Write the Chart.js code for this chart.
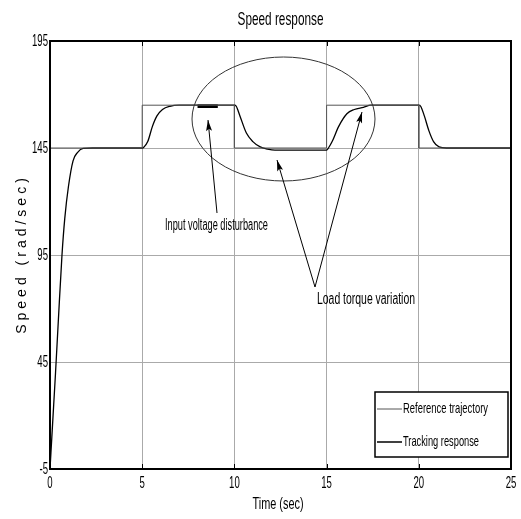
<!DOCTYPE html>
<html>
<head>
<meta charset="utf-8">
<script src="https://cdn.jsdelivr.net/npm/chart.js@4/dist/chart.umd.min.js"></script>
<style>
html,body{margin:0;padding:0;background:#fff;}
#wrap{width:521px;height:519px;position:relative;}
</style>
</head>
<body>
<div id="wrap"><canvas id="c" width="521" height="519"></canvas></div>
<script>
const FONT = '"Liberation Sans", Arial, sans-serif';
const titleText = 'Speed response';
const xTitle = 'Time (sec)';
const yTitle = 'Speed (rad/sec)';
const xTicks = [0, 5, 10, 15, 20, 25];
const yTicks = [-5, 45, 95, 145, 195];

// Reference trajectory (step profile)
const refTime = [0, 5, 5, 10, 10, 15, 15, 20, 20, 25];
const refSpeed = [145, 145, 165, 165, 145, 145, 165, 165, 145, 145];

// Tracking response
const trkTime = [0, 0.1, 0.2, 0.3, 0.45, 0.65, 0.8, 1.0, 1.25, 1.5, 1.8, 2.3,
  5.0, 5.1, 5.3, 5.55, 5.8, 6.1, 6.5, 7.0, 8.0, 10.0,
  10.1, 10.3, 10.65, 11.0, 11.4, 11.8, 12.2, 15.0,
  15.1, 15.3, 15.65, 16.1, 16.5, 17.0, 17.4, 20.0,
  20.1, 20.3, 20.55, 20.8, 21.1, 21.5, 25];
const trkSpeed = [-5, 10, 25, 40, 64, 95, 112, 127, 139, 143, 144.8, 145,
  145, 145.5, 148, 155, 160, 163, 164.5, 165, 165, 165,
  164.5, 160, 152, 148, 145.5, 144.5, 144, 144,
  145, 148, 155, 161, 163, 164, 165, 165,
  164.5, 160, 153, 148, 145.5, 145, 145];

// Input voltage disturbance segment
const distTime = [8.0, 9.1];
const distSpeed = [164.5, 164.5];

const legendLabels = ['Reference trajectory', 'Tracking response'];
const noteVoltage = 'Input voltage disturbance';
const noteLoad = 'Load torque variation';

const toXY = (xs, ys) => xs.map((x, i) => ({x, y: ys[i]}));

// draw condensed text: horizontally squeezed by factor sx
function narrowText(ctx, text, x, y, size, sx, align) {
  ctx.save();
  ctx.font = size + 'px ' + FONT;
  ctx.textBaseline = 'middle';
  const w = ctx.measureText(text).width * sx;
  let left = x;
  if (align === 'center') left = x - w / 2;
  else if (align === 'right') left = x - w;
  ctx.translate(left, y);
  ctx.scale(sx, 1);
  ctx.textAlign = 'left';
  ctx.fillText(text, 0, 0);
  ctx.restore();
}
function fitScale(ctx, text, size, target) {
  ctx.save();
  ctx.font = size + 'px ' + FONT;
  const w = ctx.measureText(text).width;
  ctx.restore();
  return target / w;
}

const deco = {
  id: 'deco',
  afterDraw(chart) {
    const ctx = chart.ctx;
    const a = chart.chartArea;
    const xs = chart.scales.x, ys = chart.scales.y;
    ctx.save();
    ctx.fillStyle = '#000';
    // inward ticks
    ctx.strokeStyle = '#000'; ctx.lineWidth = 1;
    xTicks.forEach(t => {
      const px = Math.round(xs.getPixelForValue(t)) + 0.5;
      ctx.beginPath(); ctx.moveTo(px, a.top); ctx.lineTo(px, a.top + 5);
      ctx.moveTo(px, a.bottom); ctx.lineTo(px, a.bottom - 5); ctx.stroke();
    });
    // frame
    ctx.lineWidth = 2;
    ctx.strokeRect(a.left, a.top, a.right - a.left, a.bottom - a.top);

    // tick labels
    const tsx = fitScale(ctx, '195', 17, 16);
    yTicks.forEach(v => {
      narrowText(ctx, String(v), a.left - 2, ys.getPixelForValue(v), 17, tsx, 'right');
    });
    xTicks.forEach(v => {
      narrowText(ctx, String(v), xs.getPixelForValue(v), a.bottom + 14, 17, tsx, 'center');
    });

    // title
    narrowText(ctx, titleText, (a.left + a.right) / 2, 20, 19, fitScale(ctx, titleText, 19, 86), 'center');
    // x title
    narrowText(ctx, xTitle, 278, 505, 16, fitScale(ctx, xTitle, 16, 51), 'center');
    // y title
    ctx.save();
    ctx.translate(22, 256);
    ctx.rotate(-Math.PI / 2);
    ctx.font = '14px ' + FONT;
    ctx.textAlign = 'center'; ctx.textBaseline = 'middle';
    if ('letterSpacing' in ctx) ctx.letterSpacing = '4px';
    ctx.fillText(yTitle, 2, 0);
    ctx.restore();

    // ellipse
    ctx.strokeStyle = '#333'; ctx.lineWidth = 1;
    ctx.beginPath();
    ctx.ellipse(283.5, 119, 91.5, 62, 0, 0, Math.PI * 2);
    ctx.stroke();

    // arrows
    function arrow(x1, y1, x2, y2) {
      ctx.strokeStyle = '#000'; ctx.fillStyle = '#000'; ctx.lineWidth = 1;
      ctx.beginPath(); ctx.moveTo(x1, y1); ctx.lineTo(x2, y2); ctx.stroke();
      const ang = Math.atan2(y2 - y1, x2 - x1);
      const L = 11, W = 3;
      ctx.beginPath();
      ctx.moveTo(x2, y2);
      ctx.lineTo(x2 - L * Math.cos(ang) + W * Math.sin(ang), y2 - L * Math.sin(ang) - W * Math.cos(ang));
      ctx.lineTo(x2 - L * Math.cos(ang) * 0.8, y2 - L * Math.sin(ang) * 0.8);
      ctx.lineTo(x2 - L * Math.cos(ang) - W * Math.sin(ang), y2 - L * Math.sin(ang) + W * Math.cos(ang));
      ctx.closePath(); ctx.fill();
    }
    arrow(217, 213, 208, 120);
    arrow(315, 287, 277, 160);
    arrow(315, 287, 362, 112);

    ctx.fillStyle = '#000';
    narrowText(ctx, noteVoltage, 165, 226, 16, fitScale(ctx, noteVoltage, 16, 103), 'left');
    narrowText(ctx, noteLoad, 317, 300, 16, fitScale(ctx, noteLoad, 16, 98), 'left');

    // legend
    const lx = 375, ly = 392, lw = 133, lh = 65;
    ctx.fillStyle = '#fff';
    ctx.fillRect(lx, ly, lw, lh);
    ctx.strokeStyle = '#000'; ctx.lineWidth = 1.5;
    ctx.strokeRect(lx, ly, lw, lh);
    const rows = [409, 442];
    const colors = ['#555', '#000'];
    const widths = [1, 1.5];
    const targets = [85, 76];
    rows.forEach((y, i) => {
      ctx.strokeStyle = colors[i]; ctx.lineWidth = widths[i];
      ctx.beginPath(); ctx.moveTo(lx + 2, y); ctx.lineTo(lx + 27, y); ctx.stroke();
      ctx.fillStyle = '#000';
      narrowText(ctx, legendLabels[i], lx + 28, y, 15, fitScale(ctx, legendLabels[i], 15, targets[i]), 'left');
    });
    ctx.restore();
  }
};

new Chart(document.getElementById('c'), {
  type: 'line',
  data: {
    datasets: [
      {label: legendLabels[0], data: toXY(refTime, refSpeed), borderColor: '#555', borderWidth: 1, pointRadius: 0, tension: 0},
      {label: legendLabels[1], data: toXY(trkTime, trkSpeed), borderColor: '#000', borderWidth: 1.3, pointRadius: 0, cubicInterpolationMode: 'monotone'},
      {label: 'disturbance', data: toXY(distTime, distSpeed), borderColor: '#000', borderWidth: 3.5, pointRadius: 0}
    ]
  },
  options: {
    responsive: false,
    animation: false,
    events: [],
    layout: {padding: {top: 41, right: 10, left: 0, bottom: 0}},
    plugins: {legend: {display: false}, title: {display: false}, tooltip: {enabled: false}},
    scales: {
      x: {
        type: 'linear', min: 0, max: 25,
        afterBuildTicks: s => { s.ticks = xTicks.map(v => ({value: v})); },
        afterFit: s => { s.height = 50; },
        grid: {color: '#aaa', lineWidth: 1, drawTicks: false},
        border: {display: false},
        ticks: {display: false}
      },
      y: {
        type: 'linear', min: -5, max: 195,
        afterBuildTicks: s => { s.ticks = yTicks.map(v => ({value: v})); },
        afterFit: s => { s.width = 50; },
        grid: {color: '#aaa', lineWidth: 1, drawTicks: false},
        border: {display: false},
        ticks: {display: false}
      }
    }
  },
  plugins: [deco]
});
</script>
</body>
</html>
